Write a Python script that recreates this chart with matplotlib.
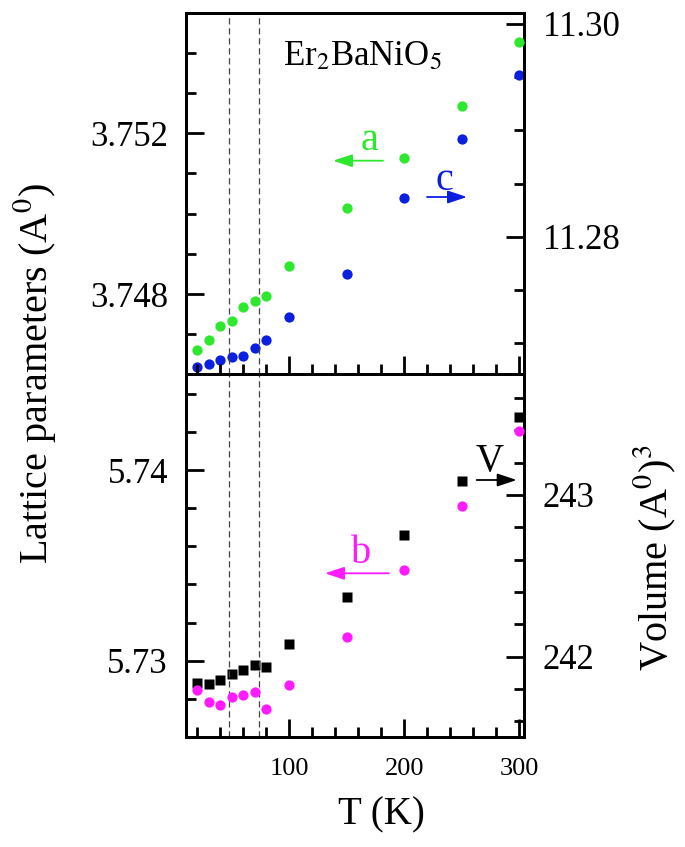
import matplotlib
matplotlib.use("Agg")
import matplotlib.pyplot as plt
from matplotlib.ticker import MultipleLocator, FixedLocator

plt.rcParams['font.family'] = ['Liberation Serif', 'DejaVu Serif']
plt.rcParams['mathtext.fontset'] = 'stix'

# ---- data ----
T = [20, 30, 40, 50, 60, 70, 80, 100, 150, 200, 250, 300]
a_param = [3.74662, 3.74687, 3.74720, 3.74734, 3.74768, 3.74784, 3.74795,
           3.74871, 3.75014, 3.75139, 3.75267, 3.75426]
c_param = [11.26778, 11.2681, 11.26847, 11.26875, 11.26881, 11.2696, 11.27035,
           11.27252, 11.27652, 11.2837, 11.28921, 11.29523]
b_param = [5.72846, 5.72783, 5.72766, 5.72811, 5.7282, 5.72836, 5.72748,
           5.72873, 5.73126, 5.73476, 5.73813, 5.74205]
volume = [241.836, 241.833, 241.856, 241.891, 241.918, 241.95, 241.936,
          242.08, 242.367, 242.751, 243.088, 243.484]
T_lines = [47.6, 73.4]

W, H = 685, 847
fig = plt.figure(figsize=(W / 100, H / 100), dpi=100)

def fx(px):
    return px / W

def fy(py):
    return 1 - py / H

L, R = 186, 523.5
top, mid, bot = 13.3, 374.3, 736.7
ax1 = fig.add_axes([fx(L), fy(mid), fx(R) - fx(L), fy(top) - fy(mid)])
ax2 = fig.add_axes([fx(L), fy(bot), fx(R) - fx(L), fy(mid) - fy(bot)])
ax1r = ax1.twinx()
ax2r = ax2.twinx()

green = '#2ee82e'
blue = '#0a1fe0'
magenta = '#ff1aff'

ms_c = 7.4
ax1.plot(T, a_param, 'o', color=green, ms=ms_c, mec='none', clip_on=False, zorder=5)
ax1r.plot(T, c_param, 'o', color=blue, ms=ms_c, mec='none', clip_on=False, zorder=5)
ax2.plot(T, b_param, 'o', color=magenta, ms=ms_c, mec='none', clip_on=False, zorder=5)
ax2r.plot(T, volume, 's', color='black', ms=6.6, mec='none', clip_on=False, zorder=5)

for ax in (ax1, ax2):
    for t in T_lines:
        ax.axvline(t, color='#444444', lw=0.9, ls=(0, (5, 3)), zorder=1)

ax1.set_xlim(10, 303.5)
ax2.set_xlim(10, 303.5)
ax1.set_ylim(3.74601, 3.75498)
ax1r.set_ylim(11.2671, 11.301)
ax2.set_ylim(5.72602, 5.74502)
ax2r.set_ylim(241.505, 243.746)

ax1.yaxis.set_major_locator(FixedLocator([3.748, 3.752]))
ax1.yaxis.set_minor_locator(MultipleLocator(0.001))
ax1r.yaxis.set_major_locator(FixedLocator([11.28, 11.30]))
ax1r.yaxis.set_minor_locator(MultipleLocator(0.005))
ax2.yaxis.set_major_locator(FixedLocator([5.73, 5.74]))
ax2.yaxis.set_minor_locator(MultipleLocator(0.002))
ax2r.yaxis.set_major_locator(FixedLocator([242, 243]))
ax2r.yaxis.set_minor_locator(MultipleLocator(0.2))
for ax in (ax1, ax2):
    ax.xaxis.set_major_locator(MultipleLocator(100))
    ax.xaxis.set_minor_locator(MultipleLocator(20))

ax1.set_yticklabels(['3.748', '3.752'])
ax1r.set_yticklabels(['11.28', '11.30'])
ax2.set_yticklabels(['5.73', '5.74'])
ax2r.set_yticklabels(['242', '243'])
ax1.tick_params(axis='x', labelbottom=False)
ax2.set_xticks([100, 200, 300])
ax2.set_xticklabels(['100', '200', '300'])

for ax in (ax1, ax2, ax1r, ax2r):
    ax.tick_params(which='major', direction='in', length=13, width=2)
    ax.tick_params(which='minor', direction='in', length=7.5, width=2)
    for s in ax.spines.values():
        s.set_linewidth(2)
for ax in (ax1, ax2):
    ax.tick_params(axis='y', labelsize=25, pad=13)
    ax.tick_params(axis='x', labelsize=19, pad=15, top=False)
for ax in (ax1r, ax2r):
    ax.tick_params(axis='y', labelsize=25, pad=14)

ax1.set_zorder(2); ax1.patch.set_visible(False)
ax2.set_zorder(2); ax2.patch.set_visible(False)

# axis labels
fig.text(fx(35), fy(373), 'Lattice parameters (A$^{0}$)', rotation=90,
         ha='center', va='center', fontsize=29)
fig.text(fx(655), fy(558), 'Volume (A$^{0}$)$^{3}$', rotation=90,
         ha='center', va='center', fontsize=29)
fig.text(fx(381), fy(815), 'T (K)', ha='center', va='center', fontsize=28)

# annotations
fig.text(fx(283), fy(65), r'Er$_2$BaNiO$_5$', ha='left', va='baseline', fontsize=25)

def arrow(x0, x1, y, color):
    fig.add_artist(matplotlib.patches.FancyArrowPatch(
        (fx(x0), fy(y)), (fx(x1), fy(y)), transform=fig.transFigure,
        arrowstyle='-|>,head_length=0.9,head_width=0.3', mutation_scale=13,
        color=color, lw=1.3, shrinkA=0, shrinkB=0))

fig.text(fx(370), fy(141), 'a', color=green, ha='center', va='center', fontsize=29)
arrow(383, 333, 160.7, green)
fig.text(fx(444), fy(181), 'c', color=blue, ha='center', va='center', fontsize=29)
arrow(427, 467, 197, blue)
fig.text(fx(361), fy(553), 'b', color=magenta, ha='center', va='center', fontsize=29)
arrow(389, 325, 573.3, magenta)
fig.text(fx(489.5), fy(462), 'V', color='black', ha='center', va='center', fontsize=28)
arrow(476.7, 516.7, 480, 'black')

fig.savefig('out.png', dpi=100)
